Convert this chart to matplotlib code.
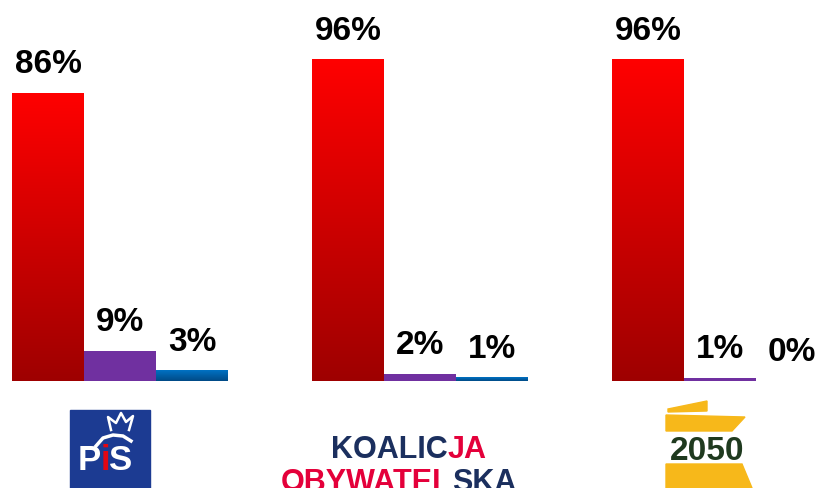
import numpy as np
import matplotlib.pyplot as plt
from matplotlib.colors import LinearSegmentedColormap
from matplotlib.patches import Polygon, Rectangle

# Data
parties = ['PiS', 'Koalicja Obywatelska', 'Polska 2050']
red_vals = [86, 96, 96]
purple_vals = [9, 2, 1]
blue_vals = [3, 1, 0]

plt.rcParams['font.family'] = ['Liberation Sans', 'DejaVu Sans']

fig = plt.figure(figsize=(8.15, 4.89), dpi=100)
ax = fig.add_axes([0, 0, 1, 1])
ax.patch.set_alpha(0)

x = np.arange(len(parties))
w = 0.24

red_cmap = LinearSegmentedColormap.from_list('red', ['#9e0000', '#ff0000'])
blue_cmap = LinearSegmentedColormap.from_list('blue', ['#004a86', '#0072c4'])

series = [
    (red_vals, -w, red_cmap, '#d00000'),
    (purple_vals, 0, None, '#7030a0'),
    (blue_vals, w, blue_cmap, '#0066b0'),
]

grad = np.linspace(1, 0, 256).reshape(-1, 1)
for vals, off, cmap, col in series:
    bars = ax.bar(x + off, vals, width=w, color=col, zorder=2)
    for b, v in zip(bars, vals):
        if cmap is not None and v > 0:
            ax.imshow(grad, extent=[b.get_x(), b.get_x() + b.get_width(), 0, b.get_height()],
                      cmap=cmap, vmin=0, vmax=1, aspect='auto', origin='upper', zorder=3)
        ax.annotate(f'{v}%', (b.get_x() + b.get_width() / 2, b.get_height()),
                    xytext=(0, 15), textcoords='offset points', ha='center', va='baseline',
                    fontsize=24, fontweight='bold', color='black', zorder=4)

ax.set_xlim(-0.4, 2.3167)
ax.set_ylim(-32.0, 114.2)
ax.axis('off')

# Party logos drawn underneath, in pixel coordinates
lax = fig.add_axes([0, 0, 1, 1])
lax.set_xlim(0, 815)
lax.set_ylim(489, 0)
lax.axis('off')

# PiS
lax.add_patch(Rectangle((70, 411), 80, 80, color='#1c3b92'))
crown_x = [111, 108, 116, 121, 126, 133, 129]
crown_y = [431, 418, 424, 414, 423, 417, 431]
lax.plot(crown_x, crown_y, color='white', lw=1.8)
lax.plot([96, 103, 113, 123, 131], [447, 439, 436, 437, 442], color='white', lw=2.5)
lax.text(101, 470, 'P', color='white', fontsize=25, fontweight='bold', ha='right', va='baseline')
lax.text(101, 470, 'i', color='#e30613', fontsize=25, fontweight='bold', ha='left', va='baseline')
lax.text(109, 470, 'S', color='white', fontsize=25, fontweight='bold', ha='left', va='baseline')

# Koalicja Obywatelska
navy = '#1b2f5e'
ko_red = '#e4003a'
lax.text(448, 458, 'KOALIC', color=navy, fontsize=22, fontweight='bold', ha='right', va='baseline')
lax.text(448, 458, 'JA', color=ko_red, fontsize=22, fontweight='bold', ha='left', va='baseline')
lax.text(452, 491, 'OBYWATEL', color=ko_red, fontsize=22, fontweight='bold', ha='right', va='baseline')
lax.text(452, 491, 'SKA', color=navy, fontsize=22, fontweight='bold', ha='left', va='baseline')

# Polska 2050
yellow = '#f7b81a'
lax.add_patch(Polygon([(668, 410), (707, 402), (707, 412), (668, 413)], color=yellow))
lax.add_patch(Polygon([(666, 416), (745, 418), (732, 432), (666, 432)], color=yellow))
lax.add_patch(Polygon([(666, 465), (742, 465), (752, 489), (666, 489)], color=yellow))
lax.text(707, 460, '2050', color='#1f3a1f', fontsize=24, fontweight='bold', ha='center', va='baseline')

fig.savefig('out.png', dpi=100)
